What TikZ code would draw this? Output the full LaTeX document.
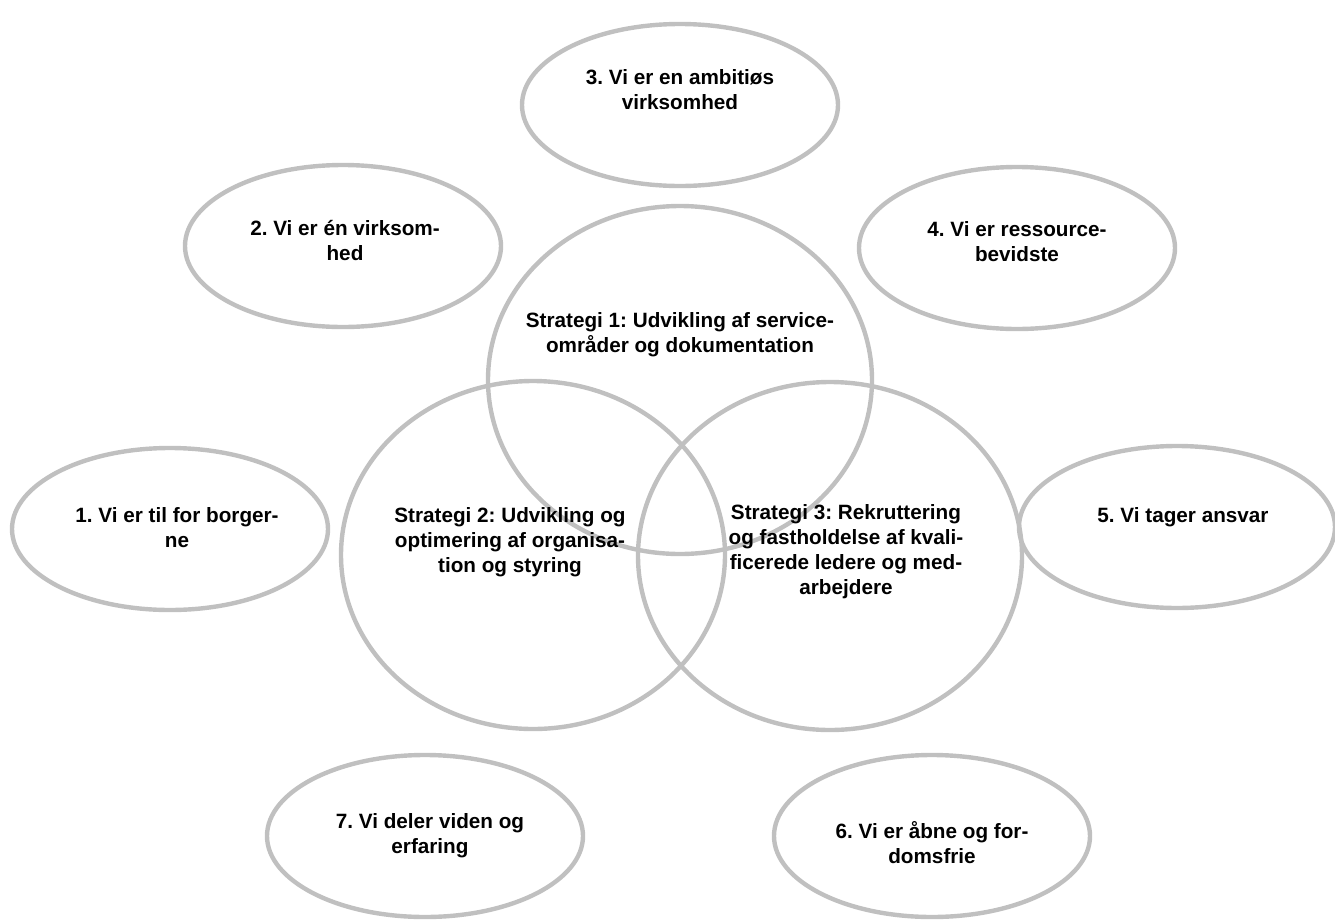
\documentclass[tikz,border=0pt]{standalone}
\usepackage{fontspec}
\setmainfont{Liberation Sans}
\usetikzlibrary{shapes.geometric}
\frenchspacing

\begin{document}
\begin{tikzpicture}[x=0.5pt,y=-0.5pt,
  ring/.style={draw=ringgray,line width=2.2pt,ellipse,inner sep=0pt},
  value/.style={ring,minimum width=158pt,minimum height=81pt},
  strat/.style={ring,minimum width=192pt,minimum height=174pt},
  txt/.style={align=center,font=\fontsize{10.35}{12.5}\selectfont\bfseries,inner sep=0pt}]
\definecolor{ringgray}{HTML}{C0C0C0}
\useasboundingbox (0,0) rectangle (1335,922);
%---values-------------------------------------------
\node[value] (v3) at (680,105) {};
\node[value] (v2) at (343,246) {};
\node[value] (v4) at (1017,248) {};
\node[value] (v1) at (170,529) {};
\node[value] (v5) at (1177,527) {};
\node[value] (v7) at (425,836) {};
\node[value] (v6) at (932,836) {};
%---strategies---------------------------------------
\node[strat] (s1) at (680,380) {};
\node[strat] (s2) at (533,555) {};
\node[strat] (s3) at (830,556) {};
%----------text--------------------------------
\node[txt] (t3) at (680,90) {3. Vi er en ambitiøs\\virksomhed};
\node[txt] (t2) at (345,241) {2. Vi er én virksom-\\hed};
\node[txt] (t4) at (1017,242) {4. Vi er ressource-\\bevidste};
\node[txt] (t1) at (177,528) {1. Vi er til for borger-\\ne};
\node[txt] (t5) at (1183,517) {5. Vi tager ansvar};
\node[txt] (t7) at (430,836) {7. Vi deler viden og\\erfaring};
\node[txt] (t6) at (932,843) {6. Vi er åbne og for-\\domsfrie};
\node[txt] (ts1) at (680,335) {Strategi 1: Udvikling af service-\\områder og dokumentation};
\node[txt] (ts2) at (510,542) {Strategi 2: Udvikling og\\optimering af organisa-\\tion og styring};
\node[txt] (ts3) at (846,552) {Strategi 3: Rekruttering\\og fastholdelse af kvali-\\ficerede ledere og med-\\arbejdere};
\end{tikzpicture}
\end{document}
